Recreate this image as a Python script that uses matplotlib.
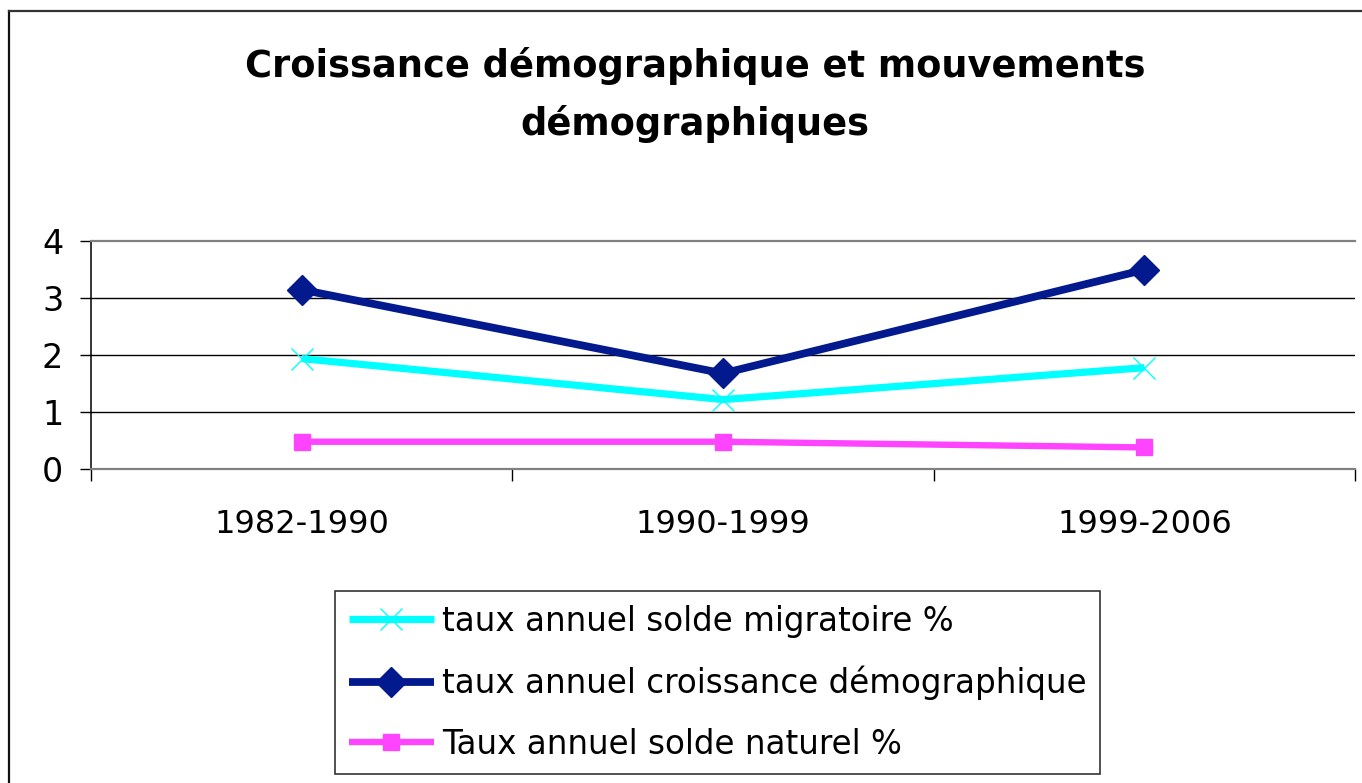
import matplotlib
matplotlib.use("Agg")
import matplotlib.pyplot as plt
from matplotlib.lines import Line2D

categories = ['1982-1990', '1990-1999', '1999-2006']
migratoire = [1.93, 1.21, 1.77]
croissance = [3.14, 1.67, 3.49]
naturel = [0.47, 0.47, 0.37]
yticks = [0, 1, 2, 3, 4]
labels = ['taux annuel solde migratoire %',
          'taux annuel croissance démographique',
          'Taux annuel solde naturel %']
title = 'Croissance démographique et mouvements\ndémographiques'

plt.rcParams['font.family'] = ['DejaVu Sans']
W, H = 1362, 783
fig = plt.figure(figsize=(W / 100, H / 100), dpi=100)
fig.patch.set_facecolor('white')

ax = fig.add_axes([91 / W, 1 - 468.5 / H, (1355 - 91) / W, (468.5 - 240.7) / H])
x = list(range(len(categories)))

c_cyan = '#00FFFF'
c_blue = '#031A8E'
c_pink = '#FF44FF'

ax.plot(x, migratoire, color=c_cyan, lw=5.2, marker='x', markersize=16,
        markeredgewidth=1.0, label=labels[0], solid_capstyle='butt', zorder=3)
ax.plot(x, croissance, color=c_blue, lw=5.6, marker='D', markersize=15,
        label=labels[1], solid_capstyle='butt', zorder=4)
ax.plot(x, naturel, color=c_pink, lw=4.6, marker='s', markersize=11,
        label=labels[2], solid_capstyle='butt', zorder=3)

ax.set_xlim(-0.5, len(categories) - 0.5)
ax.set_ylim(0, 4)
ax.set_yticks(yticks)
ax.set_yticklabels([str(v) for v in yticks], fontsize=24)
ax.tick_params(axis='y', length=8, width=1.0, color='black', pad=12, direction='out')

ax.set_xticks(x)
ax.set_xticklabels(categories, fontsize=23)
ax.set_xticks([i - 0.5 for i in range(len(categories) + 1)], minor=True)
ax.tick_params(axis='x', which='major', length=0, pad=29)
ax.tick_params(axis='x', which='minor', length=8.5, width=1.0, color='black', direction='out')

for v in yticks[1:-1]:
    ax.axhline(v, color='black', lw=1.0, zorder=1)

ax.spines['right'].set_visible(False)
ax.spines['top'].set_color('#808080')
ax.spines['top'].set_linewidth(1.6)
ax.spines['bottom'].set_color('#808080')
ax.spines['bottom'].set_linewidth(1.6)
ax.spines['left'].set_color('black')
ax.spines['left'].set_linewidth(1.1)

fig.text(695 / W, 1 - 95 / H, title, ha='center', va='center', fontsize=26.5,
         fontweight='bold', linespacing=1.65)

leg = fig.legend(loc='upper left', bbox_to_anchor=(335 / W, 1 - 591 / H),
                 fontsize=23.5, frameon=True, fancybox=False, borderaxespad=0,
                 handlelength=2.6, handletextpad=0.25, borderpad=0.42,
                 labelspacing=0.85)
leg.get_frame().set_edgecolor('black')
leg.get_frame().set_linewidth(1.2)

fig.add_artist(Line2D([8.5 / W, 8.5 / W], [0, 1 - 11 / H], color='#111111', lw=1.6,
                      transform=fig.transFigure))
fig.add_artist(Line2D([8.5 / W, 1], [1 - 11 / H, 1 - 11 / H], color='#333333', lw=1.6,
                      transform=fig.transFigure))

fig.savefig('out.png', dpi=100)
